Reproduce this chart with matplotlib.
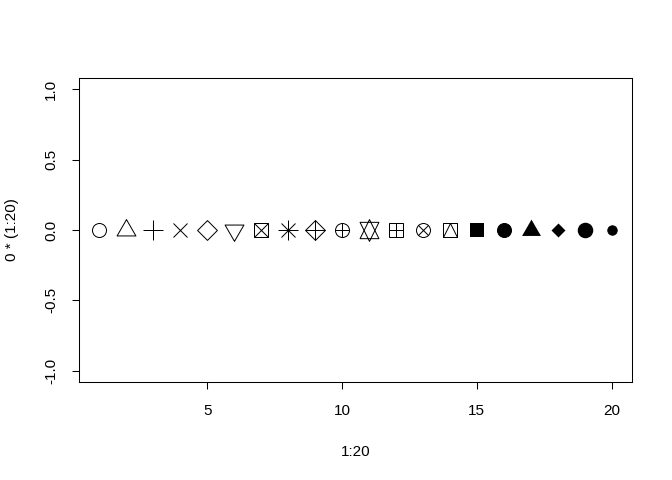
import matplotlib
matplotlib.use('Agg')
import matplotlib.pyplot as plt
from matplotlib.path import Path
from matplotlib.markers import MarkerStyle

plt.rcParams['font.family'] = ['Liberation Sans', 'DejaVu Sans']

# data: x = 1:20, y = 0 * (1:20), one plotting symbol per point
x_vals = [1, 2, 3, 4, 5, 6, 7, 8, 9, 10, 11, 12, 13, 14, 15, 16, 17, 18, 19, 20]
y_vals = [0, 0, 0, 0, 0, 0, 0, 0, 0, 0, 0, 0, 0, 0, 0, 0, 0, 0, 0, 0]
pch_vals = [1, 2, 3, 4, 5, 6, 7, 8, 9, 10, 11, 12, 13, 14, 15, 16, 17, 18, 19, 20]
x_ticks = [5, 10, 15, 20]
y_ticks = [-1.0, -0.5, 0.0, 0.5, 1.0]
y_tick_labels = ['-1.0', '-0.5', '0.0', '0.5', '1.0']

PX = 0.72  # pixels -> points at 100 dpi
R0 = 7.0  # R symbol radius in pixels

tri_up = [(0, 1), (0.866, -0.5), (-0.866, -0.5), (0, 1)]
tri_down = [(0, -1), (0.866, 0.5), (-0.866, 0.5), (0, -1)]
tri_up2 = [(0, 1), (0.866, -0.75), (-0.866, -0.75), (0, 1)]
tri_down2 = [(0, -1), (0.866, 0.75), (-0.866, 0.75), (0, -1)]
diamond = [(0, 1), (1, 0), (0, -1), (-1, 0), (0, 1)]
sq_tri = MarkerStyle(Path(
    [(-1, -1), (1, -1), (1, 1), (-1, 1), (-1, -1), (-1, -1), (0, 1), (1, -1)],
    [Path.MOVETO, Path.LINETO, Path.LINETO, Path.LINETO, Path.CLOSEPOLY,
     Path.MOVETO, Path.LINETO, Path.LINETO]))

d = 2 * R0
tri = 2 * 1.555 * R0
big = 2 * 1.414 * R0
# pch -> list of (marker, size in px, filled, edge width in px)
symbols = {
    1: [('o', d, False, 1)],
    2: [(tri_up, tri, False, 1)],
    3: [('+', big, False, 1)],
    4: [('x', d, False, 1)],
    5: [(diamond, big, False, 1)],
    6: [(tri_down, tri, False, 1)],
    7: [('s', d, False, 1), ('x', d, False, 1)],
    8: [('x', d, False, 1), ('+', big, False, 1)],
    9: [(diamond, big, False, 1), ('+', big, False, 1)],
    10: [('o', d, False, 1), ('+', d, False, 1)],
    11: [(tri_up2, tri, False, 1), (tri_down2, tri, False, 1)],
    12: [('s', d, False, 1), ('+', d, False, 1)],
    13: [('o', d, False, 1), ('x', d * 0.72, False, 1)],
    14: [(sq_tri, d, False, 1)],
    15: [('s', d * 1.02, True, 0)],
    16: [('o', d, True, 1)],
    17: [(tri_up, tri, True, 0)],
    18: [(diamond, d * 1.0, True, 0)],
    19: [('o', d, True, 1.5)],
    20: [('o', d * 0.67, True, 1)],
}

fig = plt.figure(figsize=(6.72, 4.8), dpi=100)
ax = fig.add_axes([79 / 672, 98 / 480, 553 / 672, 304 / 480])

for xv, yv, p in zip(x_vals, y_vals, pch_vals):
    for m, size, filled, ew in symbols[p]:
        ax.plot([xv], [yv], linestyle='none', marker=m, markersize=size * PX,
                markerfacecolor='black' if filled else 'none',
                markeredgecolor='black', markeredgewidth=ew * PX)

ax.set_xlim(0.24, 20.76)
ax.set_ylim(-1.08, 1.08)
ax.set_xticks(x_ticks)
ax.set_xticklabels([str(t) for t in x_ticks])
ax.set_yticks(y_ticks)
ax.set_yticklabels(y_tick_labels, rotation=90, va='center')
ax.tick_params(length=7 * PX, width=0.75, direction='out', labelsize=11, pad=11)
ax.tick_params(axis='y', pad=10)
for s in ax.spines.values():
    s.set_linewidth(0.75)

ax.set_xlabel('1:20', fontsize=11, labelpad=19)
ax.set_ylabel('0 * (1:20)', fontsize=11, labelpad=18)

fig.savefig('out.png', dpi=100)
